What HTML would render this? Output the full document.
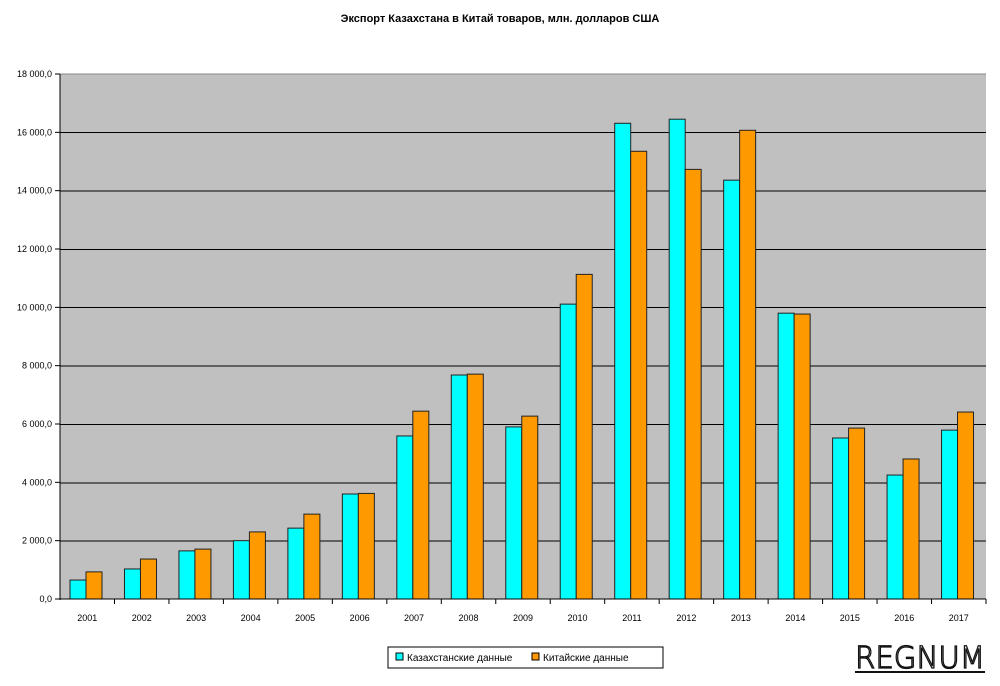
<!DOCTYPE html>
<html><head><meta charset="utf-8"><style>body{margin:0;background:#fff}</style></head><body>
<svg width="1000" height="681" xmlns="http://www.w3.org/2000/svg" font-family="Liberation Sans, sans-serif">
<text x="500" y="22" text-anchor="middle" font-size="11" font-weight="bold">Экспорт Казахстана в Китай товаров, млн. долларов США</text>
<rect x="60" y="74" width="926" height="525" fill="#c0c0c0"/>
<g stroke="#000" stroke-width="1">
<line x1="60" x2="986" y1="541" y2="541"/><line x1="60" x2="986" y1="483" y2="483"/>
<line x1="60" x2="986" y1="424.5" y2="424.5"/><line x1="60" x2="986" y1="366" y2="366"/>
<line x1="60" x2="986" y1="307.5" y2="307.5"/><line x1="60" x2="986" y1="249.5" y2="249.5"/>
<line x1="60" x2="986" y1="191" y2="191"/><line x1="60" x2="986" y1="132.5" y2="132.5"/>
<line x1="60" x2="986" y1="74" y2="74" stroke="#888"/>
</g>
<g id="bars" stroke="#222" stroke-width="1"></g>
<line x1="60" x2="60" y1="74" y2="600" stroke="#000"/>
<line x1="60" x2="986" y1="599" y2="599" stroke="#000"/>
<g id="ticks" stroke="#000"></g>
<g id="lab" font-size="9" fill="#000"></g>
<rect x="388" y="647" width="275" height="21" fill="#fff" stroke="#000"/>
<rect x="396" y="653" width="7" height="7" fill="#00ffff" stroke="#000"/>
<text x="407" y="661" font-size="10">Казахстанские данные</text>
<rect x="532" y="653" width="7" height="7" fill="#ff9900" stroke="#000"/>
<text x="543" y="661" font-size="10">Китайские данные</text>
<text x="920" y="668" text-anchor="middle" font-size="30" font-family="DejaVu Sans, sans-serif" font-weight="300" fill="none" stroke="#111" stroke-width="1.3" textLength="130" lengthAdjust="spacingAndGlyphs">REGNUM</text>
<line x1="855" x2="985" y1="672" y2="672" stroke="#111" stroke-width="2"/>
</svg>
<script>
const k=[650,1030,1650,2000,2430,3600,5590,7680,5900,10110,16310,16450,14360,9800,5520,4250,5790];
const c=[930,1370,1710,2300,2910,3620,6440,7710,6270,11130,15350,14730,16070,9770,5860,4800,6410];
const ns="http://www.w3.org/2000/svg",s=525/18000,gw=926/17;
const B=document.getElementById('bars'),T=document.getElementById('ticks'),L=document.getElementById('lab');
function el(p,t,a,txt){const e=document.createElementNS(ns,t);for(const q in a)e.setAttribute(q,a[q]);if(txt)e.textContent=txt;p.appendChild(e);}
for(let i=0;i<17;i++){const x=60+gw*i;
el(B,'rect',{x:x+10,y:599-k[i]*s,width:16,height:k[i]*s,fill:'#00ffff'});
el(B,'rect',{x:x+26,y:599-c[i]*s,width:16,height:c[i]*s,fill:'#ff9900'});
el(T,'line',{x1:x+gw,x2:x+gw,y1:599,y2:604});
el(L,'text',{x:x+gw/2,y:621,'text-anchor':'middle'},String(2001+i));}
for(let j=0;j<=9;j++){const y=599-j*2000*s;el(T,'line',{x1:55,x2:60,y1:y,y2:y});
const v=j*2000;const t=v==0?'0,0':(Math.floor(v/1000)+' '+String(v%1000).padStart(3,'0')+',0');
el(L,'text',{x:52,y:y+3,'text-anchor':'end'},t);}
</script>
</body></html>
